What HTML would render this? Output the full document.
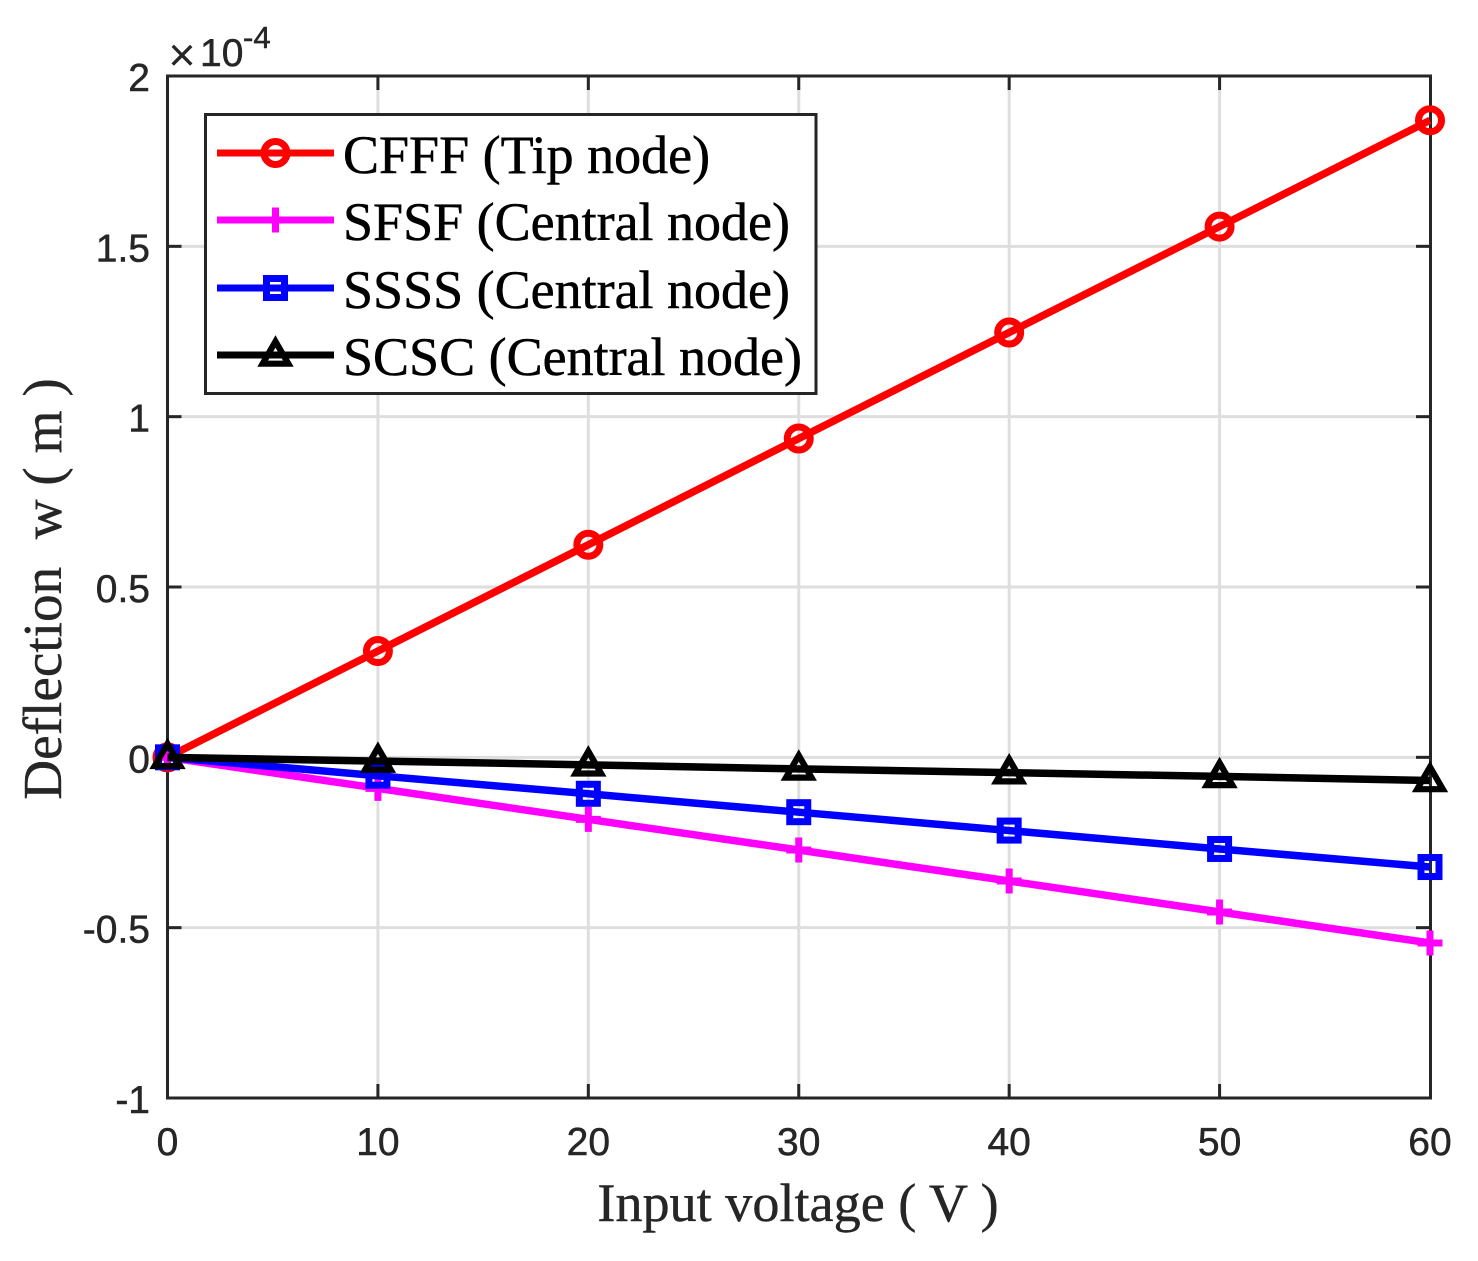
<!DOCTYPE html>
<html>
<head>
<meta charset="utf-8">
<title>Deflection vs input voltage</title>
<style>
html,body{margin:0;padding:0;background:#fff;}
svg{display:block;}
.tick-label{font-family:"Liberation Sans",sans-serif;font-size:39px;fill:#262626;stroke:#262626;stroke-width:0.5px;}
.axis-title{font-family:"Liberation Serif",serif;font-size:54.2px;fill:#262626;stroke:#262626;stroke-width:0.4px;white-space:pre;}
.legend-text{font-family:"Liberation Serif",serif;font-size:54px;fill:#000;stroke:#000;stroke-width:0.5px;}
</style>
</head>
<body>
<svg id="chart" xmlns="http://www.w3.org/2000/svg" width="1478" height="1261" viewBox="0 0 1478 1261">
  <rect x="0" y="0" width="1478" height="1261" fill="#fff"/>
  <g id="grid"></g>
  <g id="ticks"></g>
  <rect x="167.5" y="76" width="1263" height="1022" fill="none" stroke="#262626" stroke-width="3"/>
  <g id="xlabels"></g>
  <g id="ylabels"></g>
  <g id="series"></g>

  <g>
    <text class="tick-label" x="182" y="71" text-anchor="middle" style="font-size:47px;stroke-width:0">×</text>
    <text class="tick-label" x="200" y="66">10</text>
    <text class="tick-label" x="243" y="48" style="font-size:31px">-4</text>
  </g>

  <text class="axis-title" x="798" y="1221" text-anchor="middle">Input voltage ( V )</text>
  <text class="axis-title" transform="translate(61,589) rotate(-90)" text-anchor="middle" xml:space="preserve" style="font-size:55.2px">Deflection  w ( m )</text>

  <g id="legend">
    <rect x="205.5" y="114.5" width="610.5" height="279" fill="#fff" stroke="#262626" stroke-width="3"/>
  </g>
</svg>
<script>
var xTicks = [0, 10, 20, 30, 40, 50, 60];
var yTicks = [-1, -0.5, 0, 0.5, 1, 1.5, 2];
var xTickLabels = ['0', '10', '20', '30', '40', '50', '60'];
var yTickLabels = ['-1', '-0.5', '0', '0.5', '1', '1.5', '2'];
var voltages = [0, 10, 20, 30, 40, 50, 60];
var cfffValues = [0, 0.312, 0.624, 0.936, 1.247, 1.558, 1.870];
var sfsfValues = [0, -0.091, -0.182, -0.272, -0.363, -0.454, -0.545];
var ssssValues = [0, -0.054, -0.107, -0.161, -0.215, -0.269, -0.322];
var scscValues = [0, -0.011, -0.022, -0.034, -0.045, -0.056, -0.068];
var seriesNames = ['CFFF (Tip node)', 'SFSF (Central node)', 'SSSS (Central node)', 'SCSC (Central node)'];

var NS = 'http://www.w3.org/2000/svg';
var plotLeft = 167.5, plotRight = 1430, plotTop = 76, plotBottom = 1098;
function xScale(v) { return plotLeft + (v - 0) / (60 - 0) * (plotRight - plotLeft); }
function yScale(v) { return plotBottom - (v - (-1)) / (2 - (-1)) * (plotBottom - plotTop); }

function make(tag, attrs, parent) {
  var el = document.createElementNS(NS, tag);
  for (var k in attrs) { el.setAttribute(k, attrs[k]); }
  parent.appendChild(el);
  return el;
}

var gridG = document.getElementById('grid');
var ticksG = document.getElementById('ticks');
var xLabG = document.getElementById('xlabels');
var yLabG = document.getElementById('ylabels');

xTicks.forEach(function (t, i) {
  var x = xScale(t);
  if (i > 0 && i < xTicks.length - 1) {
    var g = make('line', { x1: x, x2: x, y1: plotTop, y2: plotBottom, stroke: '#dedede', 'stroke-width': 3 }, gridG);
    
    
    var a = make('line', { x1: x, x2: x, y1: plotBottom, y2: plotBottom - 14, stroke: '#262626', 'stroke-width': 3 }, ticksG);
    
    
    var b = make('line', { x1: x, x2: x, y1: plotTop, y2: plotTop + 14, stroke: '#262626', 'stroke-width': 3 }, ticksG);
    
    
  }
  var l = make('text', { x: x, y: 1155, 'text-anchor': 'middle', 'class': 'tick-label' }, xLabG);
  
  
  l.textContent = xTickLabels[i];
});

yTicks.forEach(function (t, i) {
  var y = yScale(t);
  if (i > 0 && i < yTicks.length - 1) {
    var g = make('line', { x1: plotLeft, x2: plotRight, y1: y, y2: y, stroke: '#dedede', 'stroke-width': 3 }, gridG);
    
    
    var a = make('line', { x1: plotLeft, x2: plotLeft + 14, y1: y, y2: y, stroke: '#262626', 'stroke-width': 3 }, ticksG);
    
    
    var b = make('line', { x1: plotRight, x2: plotRight - 14, y1: y, y2: y, stroke: '#262626', 'stroke-width': 3 }, ticksG);
    
    
  }
  var l = make('text', { x: 150, y: y + 15, 'text-anchor': 'end', 'class': 'tick-label' }, yLabG);
  
  
  l.textContent = yTickLabels[i];
});

function drawMarker(kind, cx, cy, color, parent) {
  var m;
  if (kind === 'circle') {
    m = make('circle', { cx: cx, cy: cy, r: 11.5, fill: 'none', stroke: color, 'stroke-width': 7 }, parent);
  } else if (kind === 'plus') {
    m = make('path', { d: 'M' + (cx - 12.5) + ' ' + cy + 'H' + (cx + 12.5) + 'M' + cx + ' ' + (cy - 12.5) + 'V' + (cy + 12.5), fill: 'none', stroke: color, 'stroke-width': 7 }, parent);
  } else if (kind === 'square') {
    m = make('rect', { x: cx - 9, y: cy - 9.5, width: 18, height: 19, fill: 'none', stroke: color, 'stroke-width': 7 }, parent);
  } else {
    m = make('path', { d: 'M' + cx + ' ' + (cy - 13.5) + 'L' + (cx + 12.8) + ' ' + (cy + 8.7) + 'H' + (cx - 12.8) + 'Z', fill: 'none', stroke: color, 'stroke-width': 6.2, 'stroke-linejoin': 'miter' }, parent);
  }
  
  
}

var seriesG = document.getElementById('series');
var legendG = document.getElementById('legend');

function drawSeries(values, color, kind, key, legendIndex) {
  var g = make('g', {}, seriesG);
  
  
  var pts = values.map(function (v, i) { return xScale(voltages[i]) + ',' + yScale(v); }).join(' ');
  var line = make('polyline', { points: pts, fill: 'none', stroke: color, 'stroke-width': 7.5, 'stroke-linejoin': 'round' }, g);
  
  
  values.forEach(function (v, i) { drawMarker(kind, xScale(voltages[i]), yScale(v), color, g); });

  var rowLine = [153, 220, 288, 355][legendIndex];
  var rowText = [173, 240, 308, 375][legendIndex];
  var entry = make('g', {}, legendG);
  
  
  var ll = make('line', { x1: 217, x2: 334, y1: rowLine, y2: rowLine, stroke: color, 'stroke-width': 7 }, entry);
  
  
  drawMarker(kind, 275.5, rowLine, color, entry);
  var tx = make('text', { x: 343, y: rowText, 'class': 'legend-text' }, entry);
  
  
  tx.textContent = seriesNames[legendIndex];
}

drawSeries(cfffValues, '#ff0000', 'circle', 'cfff', 0);
drawSeries(sfsfValues, '#ff00ff', 'plus', 'sfsf', 1);
drawSeries(ssssValues, '#0000ff', 'square', 'ssss', 2);
drawSeries(scscValues, '#000000', 'triangle', 'scsc', 3);
</script>
</body>
</html>
